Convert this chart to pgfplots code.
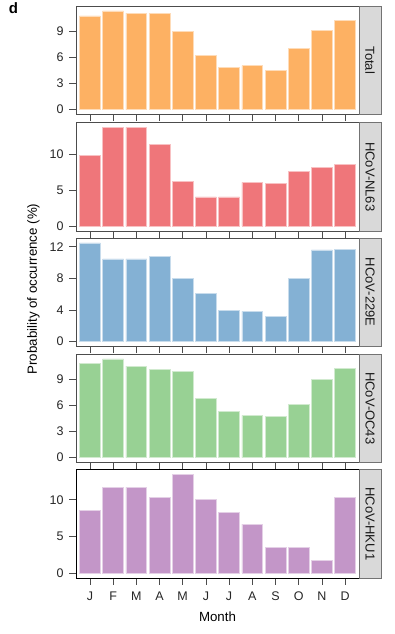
\documentclass[border=0pt]{standalone}
\usepackage{fontspec}
\setmainfont{Liberation Sans}
\usepackage{pgfplots}
\pgfplotsset{compat=1.18}

\definecolor{cTot}{HTML}{FDB163}
\definecolor{cNL}{HTML}{EF767A}
\definecolor{cE}{HTML}{84B1D4}
\definecolor{cOC}{HTML}{98D194}
\definecolor{cHK}{HTML}{C396C8}
\definecolor{stripg}{HTML}{D9D9D9}

\newcommand{\tf}{\fontsize{12.5bp}{14bp}\selectfont}
\newcommand{\stripfont}{\fontsize{13bp}{15bp}\selectfont}

\pgfplotsset{
  panel/.style={
    scale only axis, width=283bp, height=108.5bp, anchor=north west,
    xmin=0.4, xmax=12.6, xtick={1,...,12}, xticklabels={},
    tick align=outside, tick pos=left, major tick length=6.5bp,
    axis line style={black!70, line width=0.8bp},
    every tick/.style={black!70, line width=0.6bp},
    yticklabel style={font=\tf, text=black!85, xshift=-2.5bp},
    xticklabel style={font=\tf, text=black!85, yshift=-4bp},
    /pgf/number format/assume math mode=true,
    clip=false,
  },
  bars/.style={ybar, bar width=0.9, bar shift=0pt, fill=#1, draw=#1!45!white, line width=0.7bp},
}

\newcommand{\strip}[1]{%
  \draw[fill=stripg, draw=black!55, line width=0.8bp] (rel axis cs:1,0) rectangle ([xshift=22bp]rel axis cs:1,1);
  \node[rotate=-90, font=\stripfont, text=black!90] at ([xshift=11bp]rel axis cs:1,0.5) {#1};
}

\begin{document}
\begin{tikzpicture}
\useasboundingbox (0,0) rectangle (395bp,-634bp);
\node[font=\bfseries\fontsize{15bp}{17bp}\selectfont] at (13.5bp,-8.5bp) {d};
\node[rotate=90, font=\fontsize{13.3bp}{15bp}\selectfont] at (33.5bp,-289bp) {Probability of occurrence (\%)};

\begin{axis}[panel, at={(76bp,-6bp)}, ymin=-0.567, ymax=11.907, ytick={0,3,6,9}]
\addplot[bars=cTot] coordinates {(1,10.77) (2,11.34) (3,11.10) (4,11.07) (5,8.97) (6,6.22) (7,4.85) (8,5.04) (9,4.50) (10,7.06) (11,9.12) (12,10.27)};
\strip{Total}
\end{axis}

\begin{axis}[panel, at={(76bp,-122.5bp)}, ymin=-0.690, ymax=14.48, ytick={0,5,10}]
\addplot[bars=cNL] coordinates {(1,9.90) (2,13.79) (3,13.79) (4,11.43) (5,6.25) (6,4.07) (7,4.07) (8,6.11) (9,6.02) (10,7.64) (11,8.19) (12,8.56)};
\strip{HCoV-NL63}
\end{axis}

\begin{axis}[panel, at={(76bp,-238bp)}, ymin=-0.624, ymax=13.094, ytick={0,4,8,12}]
\addplot[bars=cE] coordinates {(1,12.47) (2,10.45) (3,10.45) (4,10.74) (5,7.98) (6,6.05) (7,3.94) (8,3.82) (9,3.15) (10,7.93) (11,11.59) (12,11.67)};
\strip{HCoV-229E}
\end{axis}

\begin{axis}[panel, at={(76bp,-354bp)}, ymin=-0.567, ymax=11.907, ytick={0,3,6,9}]
\addplot[bars=cOC] coordinates {(1,10.81) (2,11.34) (3,10.50) (4,10.16) (5,9.93) (6,6.84) (7,5.31) (8,4.86) (9,4.70) (10,6.15) (11,8.98) (12,10.24)};
\strip{HCoV-OC43}
\end{axis}

\begin{axis}[panel, at={(76bp,-469.5bp)}, ymin=-0.673, ymax=14.12, ytick={0,5,10},
  xticklabels={J,F,M,A,M,J,J,A,S,O,N,D}, axis line style={black, line width=0.9bp}]
\addplot[bars=cHK] coordinates {(1,8.54) (2,11.68) (3,11.68) (4,10.37) (5,13.45) (6,10.04) (7,8.23) (8,6.68) (9,3.55) (10,3.55) (11,1.77) (12,10.32)};
\strip{HCoV-HKU1}
\node[font=\fontsize{13.3bp}{15bp}\selectfont] at ([yshift=-38.7bp]rel axis cs:0.5,0) {Month};
\end{axis}
\end{tikzpicture}
\end{document}
